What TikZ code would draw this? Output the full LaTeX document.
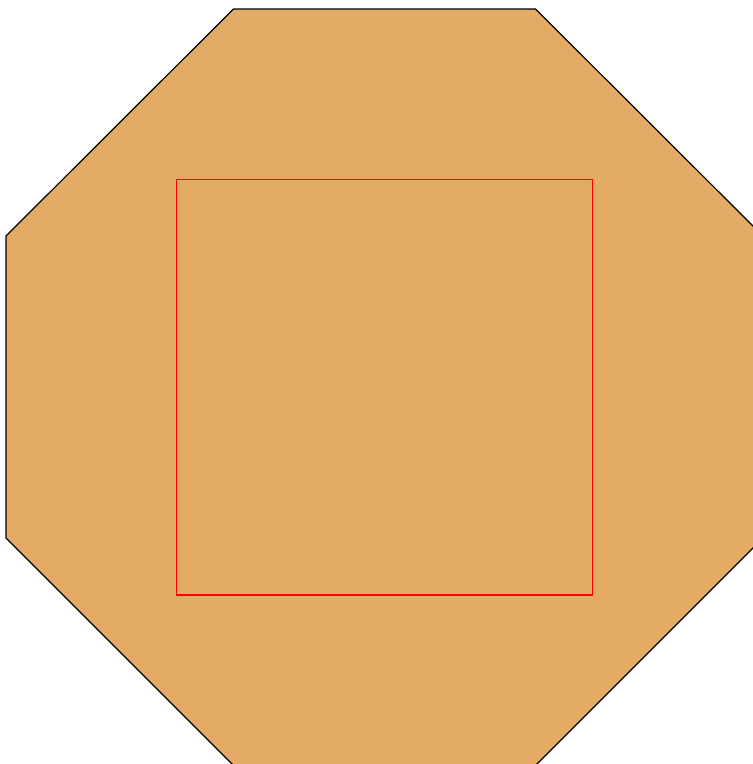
\documentclass[tikz,border=0pt]{standalone}
\begin{document}
\begin{tikzpicture}[x=1pt,y=-1pt,
  octo/.style={draw=black,line width=1.2pt,fill=octfill},
  inner/.style={draw=red,line width=1.3pt}]
\definecolor{octfill}{RGB}{227,171,101}
\useasboundingbox (0,0) rectangle (753,764);
\clip (0,0) rectangle (753,764);
\fill[white] (0,0) rectangle (753,764);
\draw[octo] (233.5,9) -- (535.5,9) -- (763,236) -- (763,538) -- (535.5,765.5) -- (233.5,765.5) -- (6,538) -- (6,236) -- cycle;
\draw[inner] (176.5,179.5) rectangle (592.5,595);
\end{tikzpicture}
\end{document}
